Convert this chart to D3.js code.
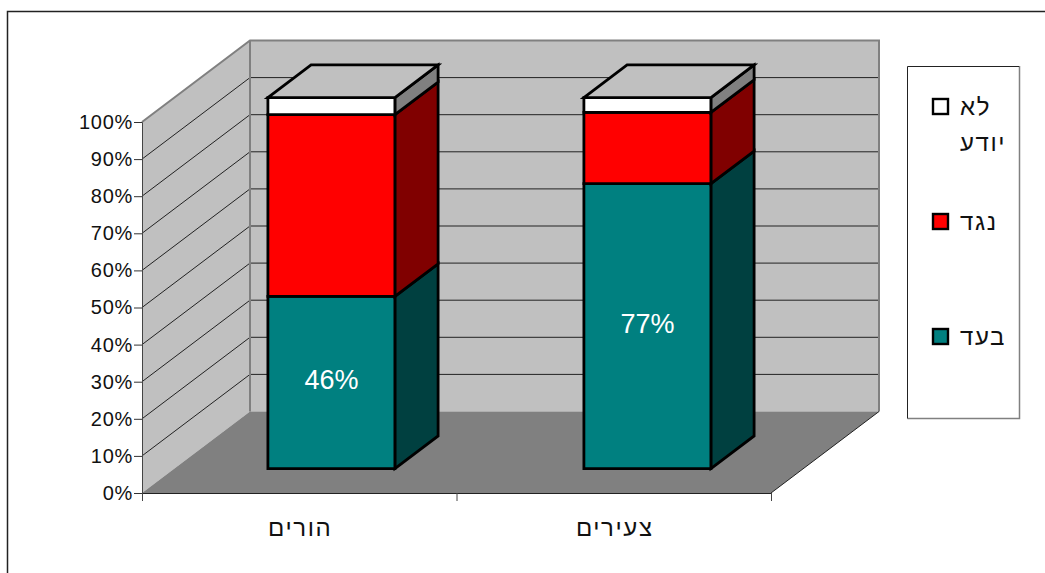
<!DOCTYPE html>
<html lang="he">
<head>
<meta charset="utf-8">
<script src="https://cdn.jsdelivr.net/npm/d3@7"></script>
<style>
  html, body { margin: 0; padding: 0; background: #fff; }
  svg { display: block; }
  text { font-family: "Liberation Sans", Arial, sans-serif; fill: #111; }
</style>
</head>
<body>
<svg id="chart" width="1045" height="573"></svg>
<script>
/* 3-D stacked 100% columns, drawn with a small oblique projection. */

const categories = ['הורים', 'צעירים'];
const seriesNames = ['בעד', 'נגד', 'לא יודע'];
const favour = [46.4, 76.8];
const against = [49, 19.2];
const dontKnow = [4.6, 4];
const yTicks = [0, 10, 20, 30, 40, 50, 60, 70, 80, 90, 100];
const seriesValues = [favour, against, dontKnow];

const colors = {
  front: ['#008080', '#ff0000', '#ffffff'],
  side: ['#004040', '#800000', '#808080'],
};

const svg = d3.select('#chart');
const x = d3.scaleBand().domain(categories).range([142, 771]);
const xBar = d3.scaleBand().domain(categories).range([141, 773]);
const y = d3.scaleLinear().domain([0, 100]).range([493, 122]);
const depth = d3.scaleLinear().domain([0, 1]).range([0, 1]);
const depthX = 108, depthY = -81.5;

// project a plot position + depth fraction to a screen point
function pt(px, value, d) {
  return [px + depth(d) * depthX, y(value) + depth(d) * depthY];
}
function poly(g, pts, fill, stroke, sw) {
  return g.append('polygon')
    .attr('points', pts.map(p => p.join(',')).join(' '))
    .attr('fill', fill)
    .attr('stroke', stroke || 'none')
    .attr('stroke-width', sw || 0)
    .attr('stroke-linejoin', 'miter');
}

// outer chart frame, open on the right and bottom as in the picture
svg.append('path').attr('d', 'M7.5,573V11.5H1045').attr('fill', 'none').attr('stroke', '#222').attr('stroke-width', 1.5);

/* ---- walls and floor ---- */
const walls = svg.append('g');
const left = x.range()[0], right = x.range()[1];
poly(walls, [pt(left, 0, 1), pt(right, 0, 1), pt(right, 100, 1), pt(left, 100, 1)], '#c0c0c0');
poly(walls, [pt(left, 0, 0), pt(left, 0, 1), pt(left, 100, 1), pt(left, 100, 0)], '#c0c0c0');
poly(walls, [pt(left, 0, 0), pt(right, 0, 0), pt(right, 0, 1), pt(left, 0, 1)], '#808080');

yTicks.slice(1, -1).forEach(t => {
  const a = pt(left, t, 0), b = pt(left, t, 1), c = pt(right, t, 1);
  walls.append('path')
    .attr('d', d3.line()([a, b, c]))
    .attr('fill', 'none').attr('stroke', '#222').attr('stroke-width', 1);
});

// grey wall edges
walls.append('path')
  .attr('d', d3.line()([pt(left, 100, 0), pt(left, 100, 1), pt(right, 100, 1), pt(right, 0, 1)]))
  .attr('fill', 'none').attr('stroke', '#808080').attr('stroke-width', 2);
walls.append('path')
  .attr('d', d3.line()([pt(left, 0, 1), pt(left, 100, 1)]))
  .attr('fill', 'none').attr('stroke', '#808080').attr('stroke-width', 2);
walls.append('path')
  .attr('d', d3.line()([pt(right, 0, 1), pt(right, 0, 0)]))
  .attr('fill', 'none').attr('stroke', '#222').attr('stroke-width', 1);

/* ---- axes ---- */
const yAxis = d3.axisLeft(y).tickValues(yTicks).tickSize(8).tickPadding(1).tickFormat(d => d + '%');
const yG = svg.append('g').attr('transform', `translate(${left},0)`).call(yAxis);
yG.select('.domain').attr('stroke', '#444');
yG.selectAll('.tick line').attr('stroke', '#333');
yG.selectAll('.tick text').attr('font-size', 20).attr('letter-spacing', 0.7).attr('fill', '#111')
  .attr('font-family', '"Liberation Sans", Arial, sans-serif');

const xAxis = d3.axisBottom(d3.scalePoint().domain([0, 1, 2]).range([left, right])).tickSize(8).tickFormat('');
const xG = svg.append('g').attr('transform', `translate(0,${y(0)})`).call(xAxis);
xG.select('.domain').attr('stroke', '#222');
xG.selectAll('.tick line').attr('stroke', '#444');

svg.append('g').selectAll('text').data(categories).join('text')
  .attr('x', d => x(d) + x.bandwidth() / 2 + 1)
  .attr('y', 536)
  .attr('text-anchor', 'middle')
  .attr('direction', 'rtl')
  .attr('font-size', 24)
  .attr('letter-spacing', 1.6)
  .text(d => d);

/* ---- bars ---- */
const barW = 127;
const barD0 = 0.3, barD1 = 0.7;
const bars = svg.append('g');

categories.forEach((cat, i) => {
  const bx0 = xBar(cat) + (xBar.bandwidth() - barW) / 2;
  const bx1 = bx0 + barW;
  let cum = 0;
  seriesValues.forEach((vals, s) => {
    const v0 = cum, v1 = cum + vals[i];
    cum = v1;
    // side face
    poly(bars, [pt(bx1, v0, barD0), pt(bx1, v0, barD1), pt(bx1, v1, barD1), pt(bx1, v1, barD0)],
      colors.side[s], '#000', 2.8);
    // front face
    poly(bars, [pt(bx0, v0, barD0), pt(bx1, v0, barD0), pt(bx1, v1, barD0), pt(bx0, v1, barD0)],
      colors.front[s], '#000', 2.8);
  });
  // top face
  poly(bars, [pt(bx0, 100, barD0), pt(bx1, 100, barD0), pt(bx1, 100, barD1), pt(bx0, 100, barD1)],
    '#c0c0c0', '#000', 2.8);

  // value label on the first series
  const c = pt(bx0 + barW / 2, favour[i] / 2, barD0);
  bars.append('text')
    .attr('x', c[0]).attr('y', c[1] + 7)
    .attr('text-anchor', 'middle')
    .attr('font-size', 27)
    .style('fill', '#fff')
    .text(d3.format('.0f')(favour[i]) + '%');
});

/* ---- legend ---- */
const legend = svg.append('g');
legend.append('path').attr('d', 'M907.5,418.5H1019.5V66').attr('fill', '#fff').attr('stroke', '#808080').attr('stroke-width', 1.5);
legend.append('path').attr('d', 'M907.5,418.5V66.5H1019').attr('fill', 'none').attr('stroke', '#222');

const legendY = d3.scalePoint().domain(seriesNames.slice().reverse()).range([107, 337]);
seriesNames.forEach((name, s) => {
  const cy = legendY(name);
  legend.append('rect')
    .attr('x', 933).attr('y', cy - 8)
    .attr('width', 15).attr('height', 15)
    .attr('fill', colors.front[s]).attr('stroke', '#000').attr('stroke-width', 2.4);
  const words = name === 'לא יודע' ? ['לא', 'יודע'] : [name];
  words.forEach((w, k) => {
    legend.append('text')
      .attr('x', 960).attr('y', cy + 8 + k * 36)
      .attr('text-anchor', 'end')
      .attr('direction', 'rtl')
      .attr('font-size', 24)
      .attr('letter-spacing', 1.6)
      .text(w);
  });
});
</script>
</body>
</html>
